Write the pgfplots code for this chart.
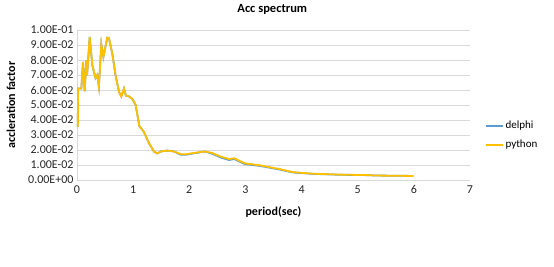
\documentclass[border=0pt]{standalone}
\usepackage{fontspec}
\setmainfont{Carlito}
\usepackage{pgfplots}
\pgfplotsset{compat=1.18}
\definecolor{pyc}{RGB}{255,192,0}
\definecolor{dec}{RGB}{91,155,213}
\definecolor{gridc}{RGB}{217,217,217}
\begin{document}
\begin{tikzpicture}
\path[use as bounding box] (-77pt,-86pt) rectangle (477pt,180pt);
\begin{axis}[
  at={(0,0)}, anchor=south west,
  scale only axis, width=393pt, height=150pt,
  xmin=0, xmax=7, ymin=0, ymax=0.1,
  xtick={0,1,2,3,4,5,6,7},
  ytick={0,0.01,0.02,0.03,0.04,0.05,0.06,0.07,0.08,0.09,0.1},
  yticklabels={0.00E+00,1.00E-02,2.00E-02,3.00E-02,4.00E-02,5.00E-02,6.00E-02,7.00E-02,8.00E-02,9.00E-02,1.00E-01},
  /pgf/number format/assume math mode=true,
  ticklabel style={font=\fontsize{12}{12}\selectfont, text=black!85},
  xticklabel style={yshift=-2pt},
  major tick length=0pt,
  axis x line=bottom, axis y line=left,
  axis line style={gridc, -},
  ymajorgrids, grid style={gridc, line width=0.8pt},
  every axis title shift=0pt,
  title={\textbf{Acc spectrum}},
  title style={font=\fontsize{12.5}{14}\selectfont, at={(axis description cs:0.497,1.14)}, anchor=center},
  xlabel={\textbf{period(sec)}},
  xlabel style={font=\fontsize{12}{14}\selectfont, at={(axis description cs:0.5,-0.213)}, anchor=center},
  ylabel={\textbf{accleration factor}},
  ylabel style={font=\fontsize{12}{14}\selectfont, at={(axis description cs:-0.168,0.5)}, anchor=center, rotate=0},
  legend style={at={(axis description cs:1.03,0.42)}, anchor=north west, draw=none, fill=none,
    font=\fontsize{11}{12}\selectfont, row sep=6pt},
  legend cell align=left,
  legend image post style={line width=1.5pt},
]
\addplot[dec, line width=1.8pt] coordinates {
(0,0.036)(0.015,0.036)(0.018,0.061)(0.077,0.061)(0.107,0.0787)(0.137,0.0591)(0.166,0.0798)(0.18,0.070)(0.226,0.0953)(0.273,0.0765)(0.33,0.068)(0.36,0.070)(0.39,0.0623)(0.433,0.0906)(0.47,0.082)(0.54,0.0949)(0.57,0.0945)(0.63,0.084)(0.69,0.069)(0.75,0.0586)(0.79,0.0557)(0.837,0.061)(0.87,0.0563)(0.926,0.0557)(0.986,0.054)(1.045,0.050)(1.11,0.036)(1.19,0.0322)(1.28,0.0247)(1.37,0.019)(1.43,0.0177)(1.49,0.019)(1.61,0.0196)(1.73,0.019)(1.85,0.0168)(1.94,0.0168)(2.08,0.0178)(2.28,0.019)(2.41,0.0175)(2.56,0.0150)(2.71,0.0133)(2.8,0.0140)(2.99,0.0106)(3.26,0.0094)(3.62,0.0069)(3.85,0.0050)(4.2,0.0041)(4.68,0.0035)(5.25,0.0032)(5.28,0.0030)(5.99,0.0027)
};
\addlegendentry{delphi}
\addplot[pyc, line width=1.8pt] coordinates {
(0,0.036)(0.015,0.036)(0.018,0.061)(0.077,0.061)(0.107,0.0787)(0.137,0.0591)(0.166,0.0798)(0.18,0.070)(0.226,0.0953)(0.273,0.0765)(0.33,0.068)(0.36,0.070)(0.39,0.0623)(0.433,0.0906)(0.47,0.082)(0.54,0.0949)(0.57,0.0945)(0.63,0.084)(0.69,0.069)(0.75,0.0586)(0.79,0.0557)(0.837,0.061)(0.87,0.0563)(0.926,0.0557)(0.986,0.054)(1.045,0.050)(1.11,0.036)(1.19,0.0322)(1.28,0.0247)(1.37,0.019)(1.43,0.0177)(1.49,0.019)(1.61,0.0196)(1.73,0.019)(1.85,0.0172)(1.94,0.0172)(2.08,0.018)(2.28,0.019)(2.41,0.018)(2.56,0.0156)(2.71,0.0140)(2.8,0.0145)(2.99,0.0111)(3.26,0.0098)(3.62,0.0072)(3.85,0.0052)(4.2,0.0042)(4.68,0.0036)(5.25,0.0032)(5.28,0.0030)(5.99,0.0027)
};
\addlegendentry{python}
\end{axis}
\end{tikzpicture}
\end{document}
